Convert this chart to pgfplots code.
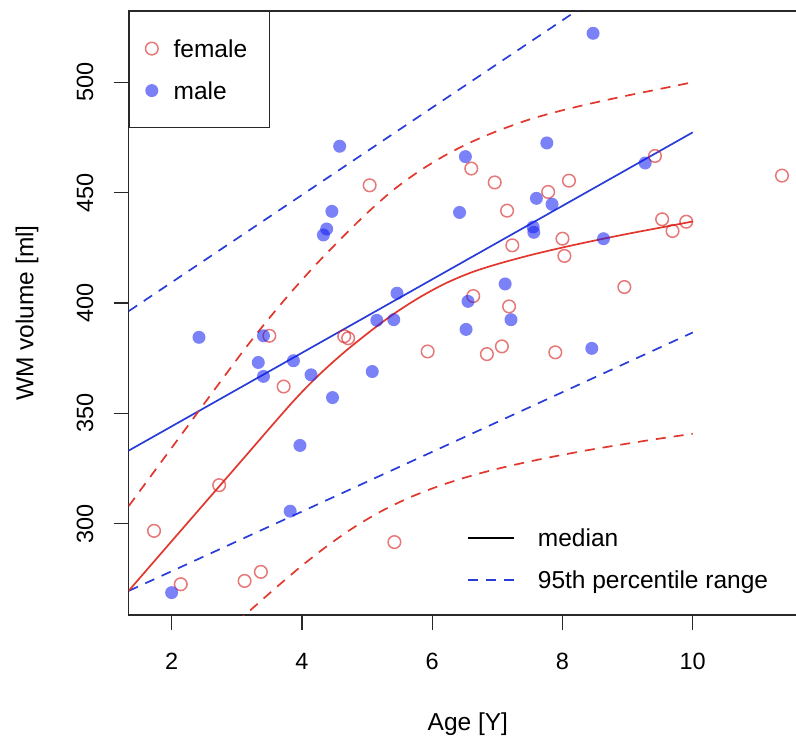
\documentclass[border=0pt]{standalone}
\usepackage{fontspec}
\setmainfont{Liberation Sans}
\usepackage{pgfplots}
\pgfplotsset{compat=1.18}
\definecolor{blueline}{RGB}{40,60,215}
\definecolor{redline}{RGB}{225,55,45}
\definecolor{malept}{RGB}{20,30,240}
\definecolor{femalept}{RGB}{215,30,30}
\definecolor{axisgray}{RGB}{40,40,40}
\newcommand{\txtfont}{\fontsize{24.5bp}{29bp}\selectfont}
\newcommand{\tickfont}{\fontsize{23.5bp}{28bp}\selectfont}
\pgfplotsset{
  markleg/.style={legend image code/.code={\draw[##1] plot coordinates {(0bp,0bp)};}},
  lineleg/.style={legend image code/.code={\draw[##1] (0bp,0bp) -- (46bp,0bp);}},
}
\begin{document}
\begin{tikzpicture}
\path[use as bounding box] (0,0) rectangle (796bp,736bp);
\clip (0,0) rectangle (796bp,736bp);
\begin{axis}[
  at={(128.7bp,121bp)}, anchor=south west,
  scale only axis, width=678.3bp, height=604bp,
  xmin=1.341, xmax=11.754, ymin=258.56, ymax=532.3,
  xtick={2,4,6,8,10}, ytick={300,350,400,450,500},
  tick pos=left, tick align=outside, major tick length=15bp,
  axis line style={axisgray, line width=1.2bp},
  every tick/.style={axisgray, line width=1.2bp},
  minor tick num=0,
  /pgf/number format/assume math mode=true,
  tick label style={font=\tickfont},
  xticklabel style={anchor=center, yshift=-31.5bp},
  yticklabel style={rotate=90, anchor=center, yshift=28.7bp},
  xlabel={Age [Y]}, ylabel={WM volume [ml]},
  every axis x label/.style={at={(axis description cs:0.5,-0.1904)}, anchor=base, font=\txtfont},
  every axis y label/.style={at={(axis description cs:-0.1406,0.5)}, rotate=90, anchor=base, font=\txtfont},
  legend cell align=left,
  legend style={at={(0,1)}, anchor=north west, draw=axisgray, line width=1.2bp, fill=white,
    inner xsep=16bp, inner ysep=25bp, row sep=18bp, column sep=15.3bp, font=\txtfont,
    nodes={inner sep=0bp, text height=21bp, text depth=3bp}},
]
% female points
\addplot[only marks, color=femalept, mark=o, mark size=6.3bp,
  mark options={draw=femalept, draw opacity=0.6, line width=1.5bp}, markleg]
  table {
x y
1.73 296.7
2.14 272.5
2.73 317.4
3.12 274.0
3.37 278.1
3.50 385.1
3.72 362.1
4.65 384.9
4.71 384.0
5.04 453.3
5.42 291.6
5.93 378.0
6.60 460.9
6.63 403.1
6.84 376.8
6.96 454.6
7.07 380.3
7.15 441.8
7.18 398.4
7.23 426.1
7.78 450.3
7.89 377.6
8.00 429.1
8.03 421.3
8.10 455.4
8.95 407.2
9.42 466.6
9.53 437.9
9.69 432.6
9.90 436.8
11.37 457.7
};
\addlegendentry{\makebox[80bp][l]{female}}
% male points
\addplot[only marks, color=malept, mark=*, mark size=6.5bp,
  mark options={draw=malept, draw opacity=0, fill=malept, fill opacity=0.56}, markleg]
  table {
x y
2.00 268.7
2.42 384.4
3.33 373.0
3.41 385.1
3.41 366.7
3.82 305.6
3.87 373.8
3.97 335.4
4.14 367.4
4.33 430.8
4.38 433.5
4.46 441.5
4.47 357.1
4.58 471.0
5.08 368.9
5.15 392.1
5.41 392.4
5.46 404.4
6.42 441.0
6.51 466.3
6.52 388.0
6.55 400.7
7.12 408.6
7.21 392.4
7.55 434.4
7.56 432.0
7.60 447.4
7.76 472.5
7.84 444.7
8.45 379.4
8.47 522.2
8.63 429.1
9.27 463.4
};
\addlegendentry{\makebox[80bp][l]{male}}
% blue lines
\addplot[forget plot, blueline, line width=1.7bp] coordinates {(1.343,333.1) (10.0,477.3)};
\addplot[forget plot, blueline, line width=1.7bp, dash pattern=on 10bp off 8bp] coordinates {(1.343,396.3) (10.0,567.7)};
\addplot[forget plot, blueline, line width=1.7bp, dash pattern=on 10bp off 8bp] coordinates {(1.343,269.5) (10.0,386.6)};
% red median
\addplot[forget plot, redline, line width=1.7bp, smooth] table {
x y
1.343 269.6
2.0 292.0
3.0 326.0
3.8 353.2
4.2 365.6
4.6 376.4
5.0 386.0
5.4 394.8
5.8 402.4
6.2 408.8
6.6 413.8
7.0 417.6
7.5 421.6
8.0 425.1
8.5 428.3
9.0 431.3
9.5 434.1
10.0 436.9
};
% red upper
\addplot[forget plot, redline, line width=1.7bp, dash pattern=on 10bp off 8bp, smooth] table {
x y
1.343 308.0
2.0 334.3
3.0 374.3
3.4 389.5
3.8 403.7
4.2 416.9
4.6 429.1
5.0 440.7
5.4 451.1
5.8 459.7
6.2 466.9
6.6 472.9
7.0 477.9
7.5 483.2
8.0 487.3
8.5 490.8
9.0 494.0
9.5 497.0
10.0 500.0
};
% red lower
\addplot[forget plot, redline, line width=1.7bp, dash pattern=on 10bp off 8bp, smooth] table {
x y
3.0 255.2
3.2 260.5
3.6 270.9
4.0 280.9
4.4 290.1
4.8 298.3
5.2 305.3
5.6 311.1
6.0 315.9
6.4 319.9
6.8 323.3
7.2 326.2
7.7 329.4
8.3 332.8
8.8 335.3
9.4 338.1
10.0 340.7
};
\end{axis}
\begin{axis}[
  at={(128.7bp,121bp)}, anchor=south west,
  scale only axis, width=678.3bp, height=604bp,
  xmin=1.341, xmax=11.754, ymin=258.56, ymax=532.3,
  hide axis,
  legend cell align=left,
  legend style={at={(0.4983,0.1478)}, anchor=north west, draw=none, fill=none,
    inner xsep=0bp, inner ysep=0bp, row sep=18bp, column sep=23.3bp, font=\txtfont,
    nodes={inner sep=0bp, text height=21bp, text depth=3bp}},
]
\addlegendimage{black, line width=1.5bp, lineleg}
\addlegendentry{median}
\addlegendimage{blueline, line width=1.7bp, dash pattern=on 10bp off 8bp, lineleg}
\addlegendentry{95th percentile range}
\end{axis}
\end{tikzpicture}
\end{document}
